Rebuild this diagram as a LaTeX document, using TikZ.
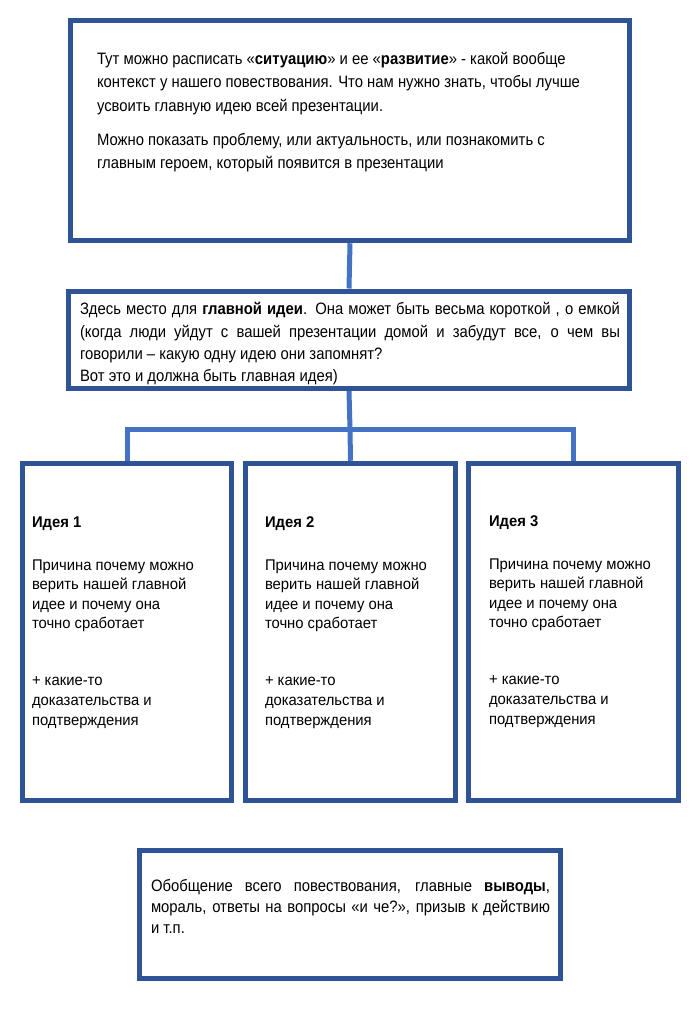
\documentclass[tikz,border=0pt]{standalone}
\usepackage{fontspec}
\setmainfont{Liberation Sans}
\newfontfamily\narrowf[FakeStretch=0.9]{Liberation Sans}
\newfontfamily\ideaf[FakeStretch=0.955]{Liberation Sans}
\definecolor{boxblue}{RGB}{47,84,150}
\definecolor{linkblue}{RGB}{68,114,196}
\newcommand{\firststrut}{\rule{0pt}{12pt}}
\tikzset{
  box/.style={draw=boxblue, line width=5.5pt, fill=white, inner sep=0pt, outer sep=2.75pt},
  link/.style={draw=linkblue, line width=5pt},
  txt/.style={inner sep=0pt, outer sep=0pt, anchor=north west, align=left},
  toptxt/.style={txt, font=\narrowf\fontsize{16.5}{23.5}\selectfont},
  midtxt/.style={txt, font=\narrowf\fontsize{16.5}{22.3}\selectfont},
  bottxt/.style={txt, font=\narrowf\fontsize{16.5}{21}\selectfont},
  ideatxt/.style={txt, font=\ideaf\fontsize{15.5}{19.6}\selectfont},
}
\begin{document}
\begin{tikzpicture}[x=1pt,y=-1pt]
\useasboundingbox (0,0) rectangle (700,1011);
\fill[white] (0,0) rectangle (700,1011);

\node[box, minimum width=559pt, minimum height=220pt] (top) at (350,130.5) {};
\node[box, minimum width=561pt, minimum height=97pt] (mid) at (349,339.75) {};
\node[box, minimum width=209pt, minimum height=337pt] (i1) at (127,632) {};
\node[box, minimum width=210pt, minimum height=337pt] (i2) at (350.5,632) {};
\node[box, minimum width=210pt, minimum height=337pt] (i3) at (573.5,632) {};
\node[box, minimum width=421pt, minimum height=128pt] (bot) at (350,914.5) {};

\coordinate (hub) at (350,429);
\draw[link] (top.south) -- (mid.north);
\draw[link] (mid.south) -- (hub);
\draw[link] (hub) -| (i1.north);
\draw[link] (hub) -| (i3.north);
\draw[link] (hub) -- (i2.north);

\node[toptxt] (ttop) at (97,52) {\firststrut Тут можно расписать «\textbf{ситуацию}» и ее «\textbf{развитие}» - какой вообще\\
контекст у нашего повествования. Что нам нужно знать, чтобы лучше\\
усвоить главную идею всей презентации.\\[10.5pt]
Можно показать проблему, или актуальность, или познакомить с\\
главным героем, который появится в презентации};

\node[midtxt] (tmid) at (80,302.5) {\firststrut\makebox[540pt][s]{Здесь место для \textbf{главной идеи}. Она может быть весьма короткой , о емкой}\\
\makebox[540pt][s]{(когда люди уйдут с вашей презентации домой и забудут все, о чем вы}\\
говорили – какую одну идею они запомнят?\\
Вот это и должна быть главная идея)};

\node[ideatxt] (t1) at (32,515) {\firststrut\textbf{Идея 1}\\[23.4pt]
Причина почему можно\\верить нашей главной\\идее и почему она\\точно сработает\\[37.4pt]
+ какие-то\\доказательства и\\подтверждения};
\node[ideatxt] (t2) at (265,515) {\firststrut\textbf{Идея 2}\\[23.4pt]
Причина почему можно\\верить нашей главной\\идее и почему она\\точно сработает\\[37.4pt]
+ какие-то\\доказательства и\\подтверждения};
\node[ideatxt] (t3) at (489,514) {\firststrut\textbf{Идея 3}\\[23.4pt]
Причина почему можно\\верить нашей главной\\идее и почему она\\точно сработает\\[37.4pt]
+ какие-то\\доказательства и\\подтверждения};

\node[bottxt] (tbot) at (151,879) {\firststrut\makebox[399pt][s]{Обобщение всего повествования, главные \textbf{выводы},}\\
\makebox[399pt][s]{мораль, ответы на вопросы «и че?», призыв к действию}\\
и т.п.};
\end{tikzpicture}
\end{document}
